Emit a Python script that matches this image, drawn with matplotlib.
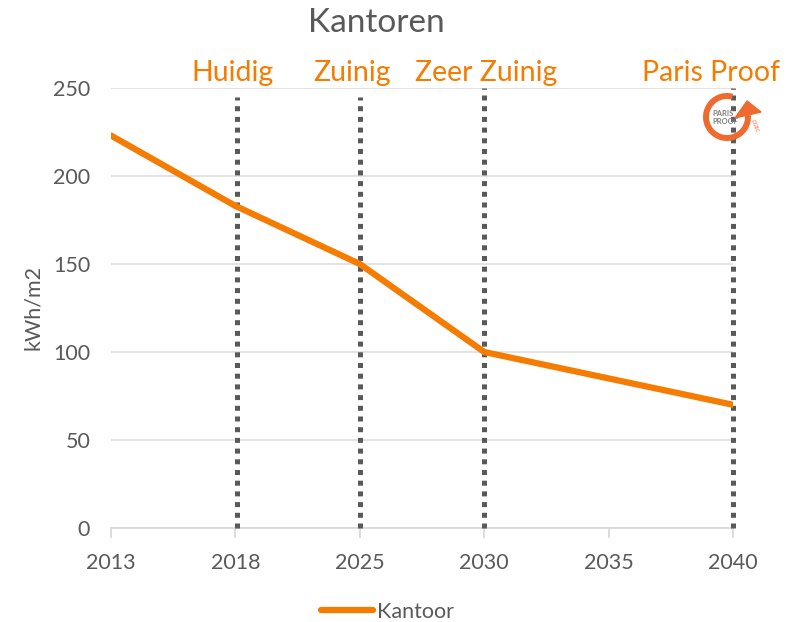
import matplotlib
matplotlib.use('Agg')
import matplotlib.pyplot as plt
from matplotlib.patches import Arc, Polygon

plt.rcParams['font.family'] = ['Lato', 'DejaVu Sans']

years = ['2013', '2018', '2025', '2030', '2035', '2040']
kantoor = [223, 183, 150, 100, 85, 70]
y_ticks = [0, 50, 100, 150, 200, 250]
scenario_pos = [1.01, 2, 3, 5]
scenario_top = [245, 245, 250, 250]
scenario_names = ['Huidig', 'Zuinig', 'Zeer Zuinig', 'Paris Proof']

W, H = 793, 622
orange = '#F57C00'
grey = '#595959'

fig = plt.figure(figsize=(W / 100, H / 100), dpi=100)
ax = fig.add_axes([111 / W, 1 - 528 / H, (733 - 111) / W, (528 - 88) / H])

x = list(range(len(years)))
for p, top in zip(scenario_pos, scenario_top):
    ax.plot([p, p], [0, top], color='#595959', lw=3.6, ls=(0, (1, 1.14)), zorder=3, clip_on=False)
ax.plot(x, kantoor, color=orange, lw=4.5, solid_capstyle='round', zorder=4, label='Kantoor')

ax.set_xlim(0, 5)
ax.set_ylim(0, 250)
ax.set_xticks(x)
ax.set_xticklabels(years)
ax.set_yticks(y_ticks)
ax.grid(axis='y', color='#E0E0E0', lw=1.3)
ax.set_axisbelow(True)
for s in ['top', 'right', 'left']:
    ax.spines[s].set_visible(False)
ax.spines['bottom'].set_color('#D9D9D9')
ax.spines['bottom'].set_linewidth(1.3)
ax.tick_params(axis='x', colors=grey, labelsize=15.5, length=7, width=1.3, color='#D9D9D9', pad=11)
ax.tick_params(axis='y', colors=grey, labelsize=15.5, length=0, pad=15)
ax.set_ylabel('kWh/m2', fontsize=15.5, color=grey, labelpad=7)

fig.text(376 / W, 1 - 23 / H, 'Kantoren', fontsize=24, color=grey, ha='center', va='center')

label_x = [233, 352, 486, 711]
for lx, name in zip(label_x, scenario_names):
    fig.text(lx / W, 1 - 73 / H, name, fontsize=20.5, color=orange, ha='center', va='center')

# legend
fig.legend(loc='center left', bbox_to_anchor=(302 / W, 1 - 612 / H), frameon=False, handlelength=2.4,
           handletextpad=0.2, prop={'size': 15.5}, labelcolor=grey)

# Paris Proof logo, in pixel coordinates
logo = fig.add_axes([0, 0, 1, 1])
logo.set_xlim(0, W)
logo.set_ylim(H, 0)
logo.axis('off')
logo_c = '#EE6A2E'
logo.add_patch(Arc((727, 117), 42, 42, theta1=-5, theta2=285, color=logo_c, lw=4.3))
logo.add_patch(Polygon([(735, 118), (747, 101), (761, 112)], color=logo_c))
logo.text(723, 113, 'PARIS', fontsize=5.5, color='#808080', weight='bold', ha='center', va='center')
logo.text(725, 122, 'PROOF', fontsize=5.5, color='#808080', weight='bold', ha='center', va='center')
logo.text(754, 126, 'DGBC', fontsize=3.5, color=logo_c, rotation=-70, ha='center', va='center')

fig.savefig('out.png', dpi=100)
